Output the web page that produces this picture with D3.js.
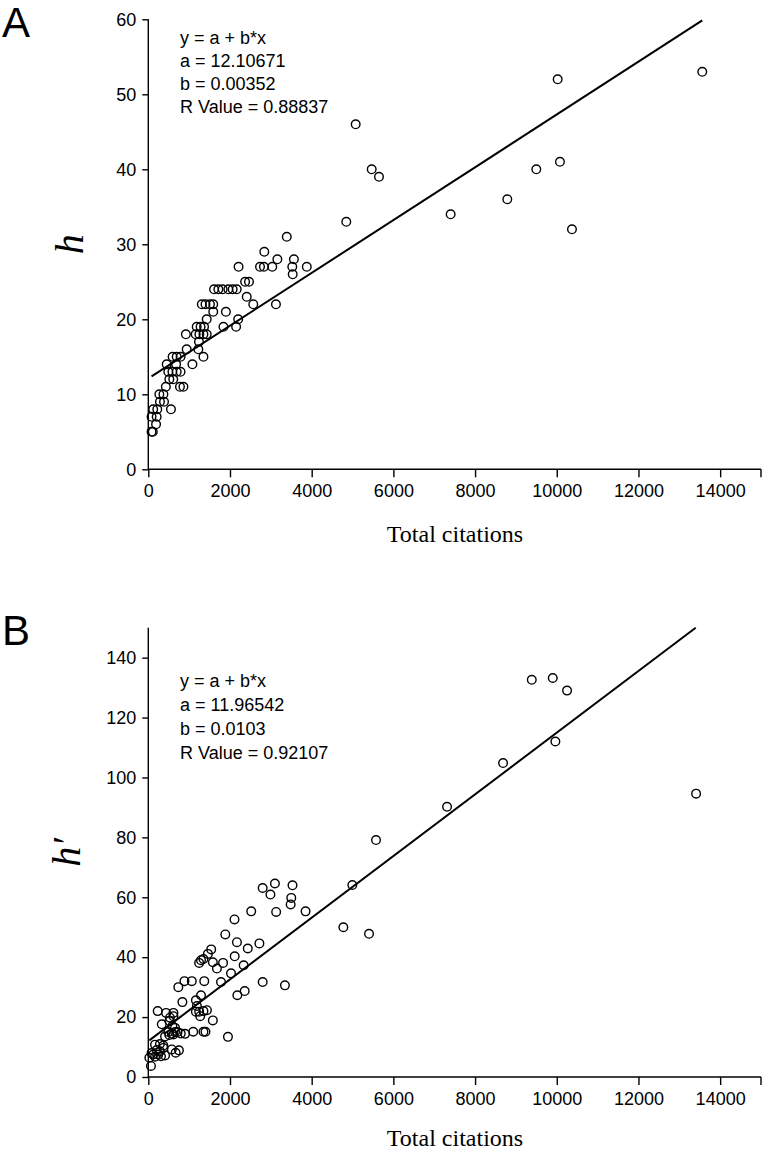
<!DOCTYPE html>
<html>
<head>
<meta charset="utf-8">
<script src="https://cdn.jsdelivr.net/npm/d3@7"></script>
<style>
html,body{margin:0;padding:0;background:#fff;}
svg{display:block;}
</style>
</head>
<body>
<svg id="chart" width="766" height="1151"></svg>
<script>
// ---------- DATA ----------
const xTicks = [0, 2000, 4000, 6000, 8000, 10000, 12000, 14000];
const yTicksA = [0, 10, 20, 30, 40, 50, 60];
const yTicksB = [0, 20, 40, 60, 80, 100, 120, 140];

// Panel A: total citations vs h
const citationsA = [80,110, 190, 80,205, 120,220,555, 285,385, 270,370, 430,775,860, 515,610,
  490,590,695,790, 450,680,1080, 595,695,790,1350, 940,1225, 1240,
  920,1160,1250,1350,1430, 1185,1280,1365,1840,2150, 1430,2200, 1590,1900,
  1310,1400,1510,1590,2570,3125, 2410, 1610,1715,1820,1960,2065,2165, 2370,2465, 3535,
  2210,2735,2830,3035,3525,3880, 3160,3565, 2840, 3390,
  4847,5077,5469,5648,7402,8789,9499,10022,10078,10372,13562];
const hA = [5,5, 6, 7,7, 8,8,8, 9,9, 10,10, 11,11,11, 12,12,
  13,13,13,13, 14,14,14, 15,15,15,15, 16,16, 17,
  18,18,18,18,18, 19,19,19,19,19, 20,20, 21,21,
  22,22,22,22,22,22, 23, 24,24,24,24,24,24, 25,25, 26,
  27,27,27,27,27,27, 28,28, 29, 31,
  33,46,40,39,34,36,40,52,41,32,53];
const fitA = [12.10671, 0.00352];
const fitTextA = ["y = a + b*x", "a = 12.10671", "b = 0.00352", "R Value = 0.88837"];

// Panel B: total citations vs h'
const citationsB = [2800,3100,2990,3530,3500,3485,3130,2520,3850,2110,
  1885,2170,2720,2435,2115,2335,2025,1540,1460,1350,1290,1245,1580,1680,1830,1780,2800,3345,2360,2180,
  735,885,1065,1370,835,1165,1290,1190,1435,1165,1245,1350,1270,1580,1950,1350,1400,1100,900,
  230,435,615,530,615,330,515,590,655,490,575,655,715,795,410,515,615,285,165,370,205,285,370,
  80,120,25,65,575,670,750,410,310,165,245,
  4775,4995,5404,5575,7314,8685,9388,9902,10252,9966,13411];
const hPrimeB = [63.1,64.6,60.9,64,59.8,57.6,55.1,55.3,55.3,52.6,
  47.6,45,44.6,42.9,40.3,37.3,34.6,42.6,41.1,39.4,39,38.1,38.3,36.2,38.1,31.7,31.7,30.6,28.7,27.3,
  30,32,32,32,25,25.6,27.3,23.7,22.3,21.8,21.8,22,20.3,18.9,13.4,15.1,15.1,15.1,14.4,
  22,21.4,21.4,19.8,20.3,17.6,18.7,17,16.4,15,14.5,15,15,14.5,13.5,14,14.2,11,10.8,10.5,9,8.6,9.7,
  8,7.5,6.4,3.7,9.2,8.1,8.9,7.2,6.9,6.8,7.5,
  50,64.1,47.8,79.1,90.2,104.8,132.6,133.2,129,112,94.6];
const fitB = [11.96542, 0.0103];
const fitTextB = ["y = a + b*x", "a = 11.96542", "b = 0.0103", "R Value = 0.92107"];

// ---------- DRAW ----------
const svg = d3.select("#chart");
const sans = "'Liberation Sans', Arial, sans-serif";
const serif = "'Liberation Serif', 'Times New Roman', serif";

function panel(opt) {
  const g = svg.append("g");
  const x = d3.scaleLinear().domain([0, 15000]).range([148.3, 761]);
  const y = d3.scaleLinear().domain([0, opt.yMax]).range([opt.bottom, opt.top]);

  // x axis
  const xAxis = g.append("g").attr("transform", `translate(0,${opt.bottom})`);
  xAxis.call(d3.axisBottom(x).tickValues(d3.range(1000, 15001, 2000)).tickSize(5).tickFormat(""));
  xAxis.call(d3.axisBottom(x).tickValues(xTicks).tickSize(8).tickPadding(7).tickFormat(d3.format("d")));
  xAxis.selectAll(".domain").attr("d", `M${x(0)},0H${x(15000)}`);
  xAxis.selectAll("text").attr("font-family", sans).attr("font-size", 18).attr("fill", "#000");
  xAxis.selectAll("line,path").attr("stroke", "#000").attr("stroke-width", 1.4);
  // last end tick at 15000
  xAxis.append("line").attr("x1", x(15000)).attr("x2", x(15000)).attr("y1", 0).attr("y2", 8)
    .attr("stroke", "#000").attr("stroke-width", 1.4);

  // y axis
  const yAxis = g.append("g").attr("transform", `translate(${x(0)},0)`);
  yAxis.call(d3.axisLeft(y).tickValues(opt.yMinor).tickSize(5).tickFormat(""));
  yAxis.call(d3.axisLeft(y).tickValues(opt.yTicks).tickSize(6).tickPadding(6).tickFormat(d3.format("d")));
  yAxis.selectAll(".domain").attr("d", `M0,${opt.bottom}V${opt.top}`);
  yAxis.selectAll("text").attr("font-family", sans).attr("font-size", 18).attr("fill", "#000");
  yAxis.selectAll("line,path").attr("stroke", "#000").attr("stroke-width", 1.4);

  // fit line
  const cits = opt.cit;
  const x0 = d3.min(cits), x1raw = d3.max(cits);
  const xTop = (opt.yMax - opt.fit[0]) / opt.fit[1];
  const x1 = Math.min(x1raw, xTop);
  g.append("line")
    .attr("x1", x(x0)).attr("y1", y(opt.fit[0] + opt.fit[1] * x0))
    .attr("x2", x(x1)).attr("y2", y(opt.fit[0] + opt.fit[1] * x1))
    .attr("stroke", "#000").attr("stroke-width", 2);

  // points
  g.append("g").selectAll("circle").data(cits.map((c, i) => [c, opt.val[i]]))
    .join("circle")
    .attr("cx", d => x(d[0])).attr("cy", d => y(d[1])).attr("r", 4.3)
    .attr("fill", "none").attr("stroke", "#000").attr("stroke-width", 1.4);

  // fit text
  g.append("g").selectAll("text").data(opt.fitText).join("text")
    .attr("x", 180).attr("y", (d, i) => opt.textY + i * opt.textDy)
    .attr("font-family", sans).attr("font-size", 18).attr("fill", "#000")
    .text(d => d);

  // axis titles
  g.append("text").attr("x", 455).attr("y", opt.titleY).attr("text-anchor", "middle")
    .attr("font-family", serif).attr("font-size", 24).attr("fill", "#000").text("Total citations");
  g.append("text")
    .attr("transform", `translate(${opt.ylabX},${(opt.top + opt.bottom) / 2}) rotate(-90)`)
    .attr("text-anchor", "middle").attr("font-family", serif).attr("font-style", "italic")
    .attr("font-size", 40).attr("fill", "#000").text(opt.ylab);

  // panel letter
  g.append("text").attr("x", 2).attr("y", opt.letterY)
    .attr("font-family", sans).attr("font-size", 42).attr("fill", "#000").text(opt.letter);
}

panel({
  top: 19.3, bottom: 469.3, yMax: 60,
  yTicks: yTicksA, yMinor: d3.range(5, 60, 10),
  cit: citationsA, val: hA, fit: fitA, fitText: fitTextA,
  textY: 44, textDy: 23, titleY: 542, ylab: "h", ylabX: 83, letter: "A", letterY: 37
});
panel({
  top: 627.7, bottom: 1077, yMax: 150,
  yTicks: yTicksB, yMinor: d3.range(10, 151, 20),
  cit: citationsB, val: hPrimeB, fit: fitB, fitText: fitTextB,
  textY: 687, textDy: 24, titleY: 1146, ylab: "h\u2032", ylabX: 80, letter: "B", letterY: 645
});
</script>
</body>
</html>
